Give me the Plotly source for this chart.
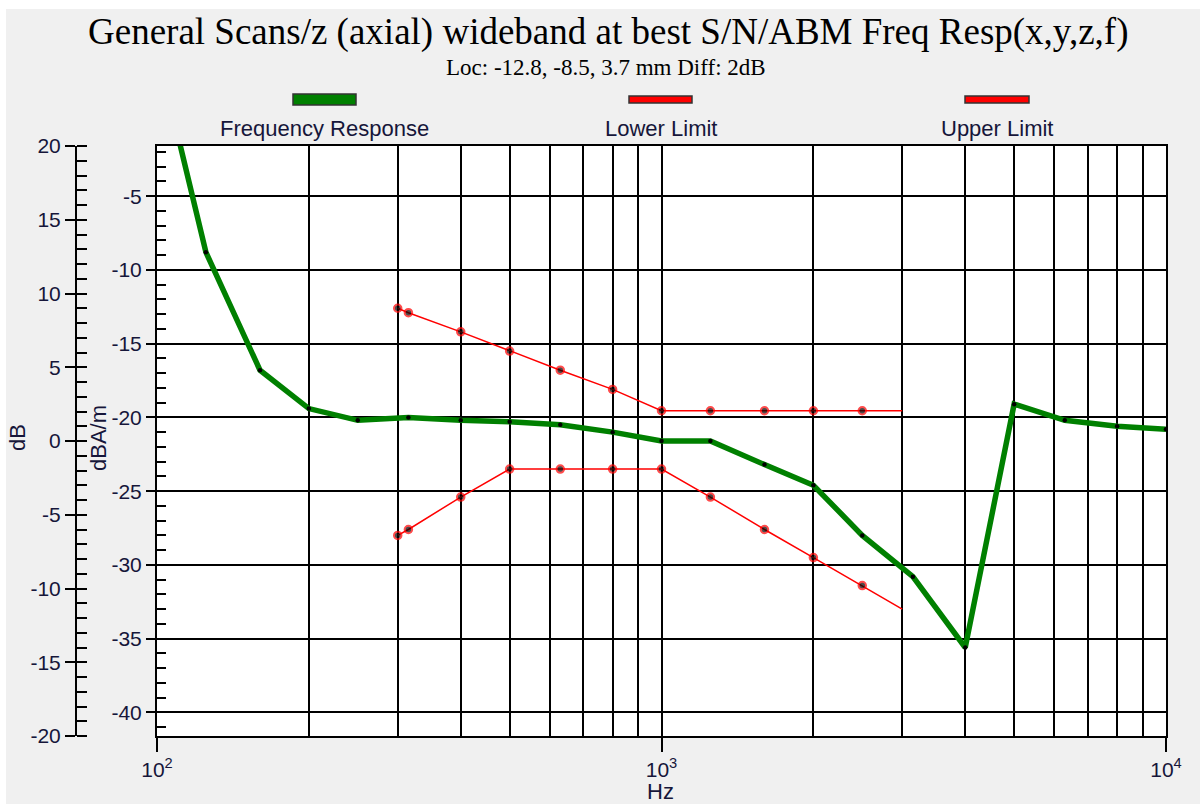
import plotly.graph_objects as go

# ---- data -------------------------------------------------------------
freq_hz = [100, 125, 160, 200, 250, 315, 400, 500, 630, 800, 1000,
           1250, 1600, 2000, 2500, 3150, 4000, 5000, 6300, 8000, 10000]
freq_resp = [5.0, -8.8, -16.8, -19.4, -20.2, -20.0, -20.2, -20.3, -20.5, -21.0, -21.6,
             -21.6, -23.2, -24.6, -28.0, -30.8, -35.6, -19.1, -20.2, -20.6, -20.8]

limit_hz = [300, 315, 400, 500, 630, 800, 1000, 1250, 1600, 2000, 2500, 3000]
lower_limit = [-28.0, -27.6, -25.4, -23.5, -23.5, -23.5, -23.5, -25.4, -27.6, -29.5, -31.4, -33.0]
upper_limit = [-12.6, -12.9, -14.2, -15.5, -16.8, -18.1, -19.55, -19.55, -19.55, -19.55, -19.55, -19.55]

x_major = [100, 1000, 10000]
x_major_text = ["10<sup>2</sup>", "10<sup>3</sup>", "10<sup>4</sup>"]
x_minor = [200, 300, 400, 500, 600, 700, 800, 900,
           2000, 3000, 4000, 5000, 6000, 7000, 8000, 9000]
dbam_ticks = [-5, -10, -15, -20, -25, -30, -35, -40]
db_ticks = [20, 15, 10, 5, 0, -5, -10, -15, -20]

title_text = "General Scans/z (axial) wideband at best S/N/ABM Freq Resp(x,y,z,f)"
subtitle_text = "Loc: -12.8, -8.5, 3.7 mm Diff: 2dB"
legend_names = ["Frequency Response", "Lower Limit", "Upper Limit"]

# ---- layout geometry (pixels) -----------------------------------------
W, H = 1200, 804
ML, MR, MT, MB = 0, 34, 146, 68
PW = W - ML - MR          # paper width
PH = H - MT - MB          # paper height
PLOT_LEFT = 157           # left edge of the plotting frame
DB_AXIS_X = 76            # outer dB axis line


def px(x):
    return (x - ML) / PW


def py(y):
    return (H - MB - y) / PH


def labels(vals):
    # plain hyphen-minus labels
    return [str(v) for v in vals]


SANS = "Liberation Sans, Arial, sans-serif"
SERIF = "Liberation Serif, Times New Roman, serif"
TXT = "#16163a"

fig = go.Figure()

# frequency response
fig.add_trace(go.Scatter(
    x=freq_hz, y=freq_resp, mode="lines+markers", name=legend_names[0],
    line=dict(color="#008000", width=5.5),
    marker=dict(color="black", size=4.5),
    showlegend=False,
))

# limits
limit_sizes = [7.5] * (len(limit_hz) - 1) + [0]
for vals, name in ((lower_limit, legend_names[1]), (upper_limit, legend_names[2])):
    fig.add_trace(go.Scatter(
        x=limit_hz, y=vals, mode="lines+markers", name=name,
        line=dict(color="#ff0000", width=1.5),
        marker=dict(color="black", size=limit_sizes, line=dict(color="#ff0000", width=2)),
        showlegend=False,
    ))

# empty traces to carry the secondary dB axes
fig.add_trace(go.Scatter(x=[], y=[], yaxis="y2", showlegend=False, hoverinfo="skip"))
fig.add_trace(go.Scatter(x=[], y=[], yaxis="y3", showlegend=False, hoverinfo="skip"))

tickfont = dict(family=SANS, size=21, color=TXT)

fig.update_layout(
    width=W, height=H,
    margin=dict(l=ML, r=MR, t=MT, b=MB, pad=0, autoexpand=False),
    paper_bgcolor="#f0f0f0",
    plot_bgcolor="white",
    showlegend=False,
    xaxis=dict(
        type="log", range=[2, 4], domain=[px(PLOT_LEFT), 1], automargin=False,
        tickmode="array", tickvals=x_major, ticktext=x_major_text,
        ticks="outside", ticklen=14, tickwidth=1.5, tickcolor="black",
        showline=True, linecolor="black", linewidth=2, mirror=True,
        showgrid=True, gridcolor="black", gridwidth=1.5,
        zeroline=False, tickfont=tickfont,
        minor=dict(tickmode="array", tickvals=x_minor, showgrid=True,
                   gridcolor="black", gridwidth=1.5, ticks=""),
    ),
    yaxis=dict(
        range=[-41.6, -1.6], anchor="x", automargin=False,
        tickmode="array", tickvals=dbam_ticks, ticktext=labels(dbam_ticks),
        ticks="outside", ticklen=9, tickwidth=1.5, tickcolor="black",
        showline=True, linecolor="black", linewidth=2, mirror=True,
        showgrid=True, gridcolor="black", gridwidth=1.5,
        zeroline=False, tickfont=tickfont,
        minor=dict(dtick=1, tick0=0, ticks="inside", ticklen=9,
                   tickwidth=1.5, tickcolor="black", showgrid=False),
    ),
    yaxis2=dict(
        range=[-20, 20], overlaying="y", anchor="free", position=px(DB_AXIS_X),
        side="left", automargin=False,
        tickmode="array", tickvals=db_ticks, ticktext=labels(db_ticks),
        ticks="outside", ticklen=10, tickwidth=1.5, tickcolor="black",
        showline=True, linecolor="black", linewidth=2,
        showgrid=False, zeroline=False, tickfont=tickfont,
        minor=dict(dtick=1, tick0=0, ticks="inside", ticklen=10,
                   tickwidth=1.5, tickcolor="black", showgrid=False),
    ),
    yaxis3=dict(
        range=[-20, 20], overlaying="y", anchor="free", position=px(DB_AXIS_X),
        side="left", automargin=False, tickmode="array", tickvals=db_ticks,
        ticks="inside", ticklen=10, tickwidth=1.5, tickcolor="black",
        showticklabels=False, showline=False, showgrid=False, zeroline=False,
    ),
)

shapes = [
    # thin white strips along the top and left border of the window
    dict(type="rect", xref="paper", yref="paper", x0=px(0), x1=px(6), y0=py(H), y1=py(0),
         fillcolor="white", line=dict(width=0), layer="below"),
    dict(type="rect", xref="paper", yref="paper", x0=px(0), x1=px(W), y0=py(9), y1=py(0),
         fillcolor="white", line=dict(width=0), layer="below"),
]

# legend swatches above the plot
legend_items = [
    (legend_names[0], "#008000", 293, 356, 94, 105, 324),
    (legend_names[1], "#ff0000", 629, 692, 96, 103, 661),
    (legend_names[2], "#ff0000", 965, 1029, 96, 103, 997),
]
annotations = []
for name, color, x0, x1, y0, y1, cx in legend_items:
    shapes.append(dict(type="rect", xref="paper", yref="paper",
                       x0=px(x0), x1=px(x1), y0=py(y1), y1=py(y0),
                       fillcolor=color, line=dict(color="#333333", width=1.5)))
    annotations.append(dict(text=name, xref="paper", yref="paper", x=px(cx), y=py(128),
                            xanchor="center", yanchor="middle", showarrow=False,
                            font=dict(family=SANS, size=22, color=TXT)))

annotations += [
    dict(text=title_text, xref="paper", yref="paper", x=px(608), y=py(32),
         xanchor="center", yanchor="middle", showarrow=False,
         font=dict(family=SERIF, size=37, color="black")),
    dict(text=subtitle_text, xref="paper", yref="paper", x=px(606), y=py(67),
         xanchor="center", yanchor="middle", showarrow=False,
         font=dict(family=SERIF, size=23, color="black")),
    dict(text="dB", xref="paper", yref="paper", x=px(17), y=py(438), textangle=-90,
         xanchor="center", yanchor="middle", showarrow=False,
         font=dict(family=SANS, size=22, color=TXT)),
    dict(text="dBA/m", xref="paper", yref="paper", x=px(98), y=py(438), textangle=-90,
         xanchor="center", yanchor="middle", showarrow=False,
         font=dict(family=SANS, size=22, color=TXT)),
    dict(text="Hz", xref="paper", yref="paper", x=px(661), y=py(791),
         xanchor="center", yanchor="middle", showarrow=False,
         font=dict(family=SANS, size=22, color=TXT)),
]

fig.update_layout(shapes=shapes, annotations=annotations)

fig.write_html("out.html")
